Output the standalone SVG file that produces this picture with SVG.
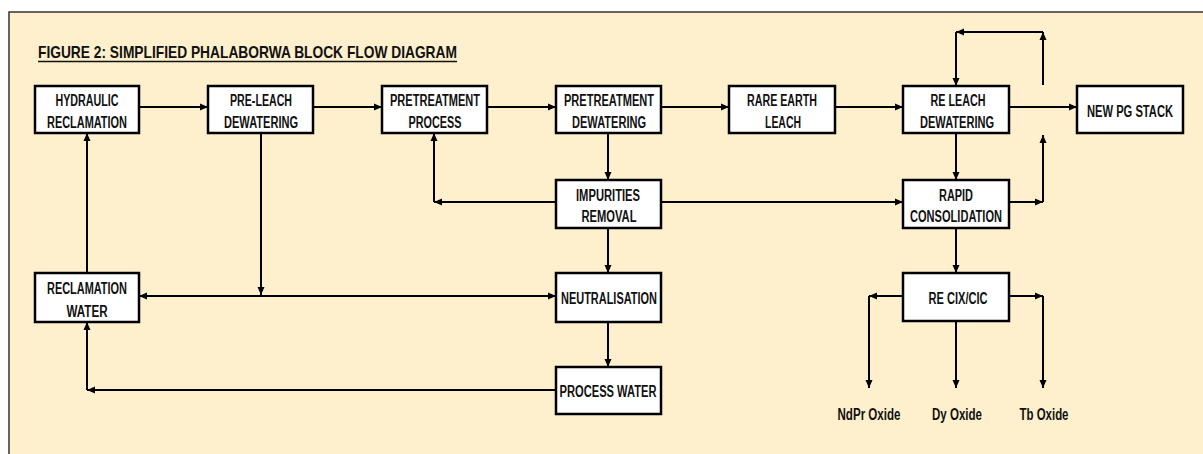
<svg xmlns="http://www.w3.org/2000/svg" width="1203" height="454" viewBox="0 0 1203 454">
<style>
.bg{fill:#FEF0CD;stroke:none}
.frame{fill:none;stroke:#333;stroke-width:1.5}
.box{fill:#fff;stroke:#000;stroke-width:2.5}
.t{font-family:"Liberation Sans Narrow","Liberation Sans",Arial,sans-serif;font-weight:bold;font-size:17px;fill:#111;text-anchor:middle}
.title{font-family:"Liberation Sans Narrow","Liberation Sans",Arial,sans-serif;font-weight:bold;font-size:16px;fill:#111}
.c{fill:none;stroke:#000;stroke-width:2;marker-end:url(#ah)}
.ln{fill:none;stroke:#000;stroke-width:2}
</style>
<defs>
<marker id="ah" markerUnits="userSpaceOnUse" markerWidth="8" markerHeight="8" viewBox="0 0 8 8" refX="8" refY="4" orient="auto">
<path d="M0,0.5 L8,4 L0,7.5 z" fill="#000"/>
</marker>
</defs>
<rect x="0" y="0" width="1203" height="454" fill="#fff"/>
<rect class="bg" x="9" y="12" width="1194" height="442"/>
<path class="frame" d="M9,454 V12 H1203"/>
<g id="title">
<text class="title" transform="translate(38,58) scale(0.8,1)" x="0" y="0" textLength="523.7" lengthAdjust="spacingAndGlyphs">FIGURE 2: SIMPLIFIED PHALABORWA BLOCK FLOW DIAGRAM</text>
<line x1="38" y1="61.5" x2="457" y2="61.5" stroke="#111" stroke-width="1.5"/>
</g>
<g id="connectors">
<path class="c" d="M139,107 H208"/>
<path class="c" d="M313,107 H382"/>
<path class="c" d="M487,107 H556"/>
<path class="c" d="M661,107 H729"/>
<path class="c" d="M835,107 H903"/>
<path class="c" d="M1009,107 H1077"/>
<path class="c" d="M1043,85 V32"/>
<path class="c" d="M1043,32 H956"/>
<path class="c" d="M956,32 V86"/>
<path class="c" d="M608,133 V180"/>
<path class="c" d="M556,202 H434"/>
<path class="c" d="M434,202 V133"/>
<path class="c" d="M661,202 H903"/>
<path class="c" d="M956,133 V180"/>
<path class="c" d="M956,228 V273"/>
<path class="c" d="M608,228 V273"/>
<path class="c" d="M261,133 V295"/>
<path class="c" d="M261,296 H139"/>
<path class="c" d="M261,296 H556"/>
<path class="c" d="M87,273 V133"/>
<path class="c" d="M608,322 V367"/>
<path class="c" d="M556,390 H87"/>
<path class="c" d="M87,390 V322"/>
<path class="c" d="M903,296 H869"/>
<path class="c" d="M869,296 V388"/>
<path class="c" d="M956,321 V388"/>
<path class="c" d="M1009,296 H1043"/>
<path class="c" d="M1043,296 V388"/>
<path class="c" d="M1009,202 H1043"/>
<path class="c" d="M1043,202 V135"/>
</g>
<g id="hydraulic-reclamation">
<rect class="box" x="35" y="86" width="104" height="47"/>
<text class="t" transform="translate(87,106) scale(0.78,1)" x="0" y="0" textLength="80.8" lengthAdjust="spacingAndGlyphs">HYDRAULIC</text>
<text class="t" transform="translate(87,128) scale(0.78,1)" x="0" y="0" textLength="102.6" lengthAdjust="spacingAndGlyphs">RECLAMATION</text>
</g>
<g id="pre-leach-dewatering">
<rect class="box" x="208" y="86" width="105" height="47"/>
<text class="t" transform="translate(261,106) scale(0.78,1)" x="0" y="0" textLength="79.5" lengthAdjust="spacingAndGlyphs">PRE-LEACH</text>
<text class="t" transform="translate(261,128) scale(0.78,1)" x="0" y="0" textLength="94.9" lengthAdjust="spacingAndGlyphs">DEWATERING</text>
</g>
<g id="pretreatment-process">
<rect class="box" x="382" y="86" width="105" height="47"/>
<text class="t" transform="translate(435,106) scale(0.78,1)" x="0" y="0" textLength="115.4" lengthAdjust="spacingAndGlyphs">PRETREATMENT</text>
<text class="t" transform="translate(435,128) scale(0.78,1)" x="0" y="0" textLength="67.9" lengthAdjust="spacingAndGlyphs">PROCESS</text>
</g>
<g id="pretreatment-dewatering">
<rect class="box" x="556" y="86" width="105" height="47"/>
<text class="t" transform="translate(609,106) scale(0.78,1)" x="0" y="0" textLength="115.4" lengthAdjust="spacingAndGlyphs">PRETREATMENT</text>
<text class="t" transform="translate(609,128) scale(0.78,1)" x="0" y="0" textLength="94.9" lengthAdjust="spacingAndGlyphs">DEWATERING</text>
</g>
<g id="rare-earth-leach">
<rect class="box" x="729" y="86" width="106" height="47"/>
<text class="t" transform="translate(782,106) scale(0.78,1)" x="0" y="0" textLength="89.7" lengthAdjust="spacingAndGlyphs">RARE EARTH</text>
<text class="t" transform="translate(783,128) scale(0.78,1)" x="0" y="0" textLength="46.2" lengthAdjust="spacingAndGlyphs">LEACH</text>
</g>
<g id="re-leach-dewatering">
<rect class="box" x="903" y="86" width="106" height="47"/>
<text class="t" transform="translate(958,106) scale(0.78,1)" x="0" y="0" textLength="70.5" lengthAdjust="spacingAndGlyphs">RE LEACH</text>
<text class="t" transform="translate(957,128) scale(0.78,1)" x="0" y="0" textLength="94.9" lengthAdjust="spacingAndGlyphs">DEWATERING</text>
</g>
<g id="new-pg-stack">
<rect class="box" x="1077" y="86" width="106" height="47"/>
<text class="t" transform="translate(1130,117) scale(0.78,1)" x="0" y="0" textLength="110.3" lengthAdjust="spacingAndGlyphs">NEW PG STACK</text>
</g>
<g id="impurities-removal">
<rect class="box" x="556" y="180" width="105" height="48"/>
<text class="t" transform="translate(608,201) scale(0.78,1)" x="0" y="0" textLength="82.1" lengthAdjust="spacingAndGlyphs">IMPURITIES</text>
<text class="t" transform="translate(609,222) scale(0.78,1)" x="0" y="0" textLength="70.5" lengthAdjust="spacingAndGlyphs">REMOVAL</text>
</g>
<g id="rapid-consolidation">
<rect class="box" x="903" y="180" width="106" height="48"/>
<text class="t" transform="translate(956,201) scale(0.78,1)" x="0" y="0" textLength="43.6" lengthAdjust="spacingAndGlyphs">RAPID</text>
<text class="t" transform="translate(956,222) scale(0.78,1)" x="0" y="0" textLength="117.9" lengthAdjust="spacingAndGlyphs">CONSOLIDATION</text>
</g>
<g id="reclamation-water">
<rect class="box" x="35" y="273" width="104" height="49"/>
<text class="t" transform="translate(87,294) scale(0.78,1)" x="0" y="0" textLength="102.6" lengthAdjust="spacingAndGlyphs">RECLAMATION</text>
<text class="t" transform="translate(87,317) scale(0.78,1)" x="0" y="0" textLength="52.6" lengthAdjust="spacingAndGlyphs">WATER</text>
</g>
<g id="neutralisation">
<rect class="box" x="556" y="273" width="105" height="49"/>
<text class="t" transform="translate(609,304) scale(0.78,1)" x="0" y="0" textLength="123.1" lengthAdjust="spacingAndGlyphs">NEUTRALISATION</text>
</g>
<g id="re-cix-cic">
<rect class="box" x="903" y="273" width="106" height="48"/>
<text class="t" transform="translate(958,304) scale(0.78,1)" x="0" y="0" textLength="75.6" lengthAdjust="spacingAndGlyphs">RE CIX/CIC</text>
</g>
<g id="process-water">
<rect class="box" x="556" y="367" width="105" height="47"/>
<text class="t" transform="translate(608,397) scale(0.78,1)" x="0" y="0" textLength="124.4" lengthAdjust="spacingAndGlyphs">PROCESS WATER</text>
</g>
<g id="ndpr-oxide">
<text class="t" transform="translate(869,420) scale(0.78,1)" x="0" y="0" textLength="80.8" lengthAdjust="spacingAndGlyphs">NdPr Oxide</text>
</g>
<g id="dy-oxide">
<text class="t" transform="translate(957,420) scale(0.78,1)" x="0" y="0" textLength="64.1" lengthAdjust="spacingAndGlyphs">Dy Oxide</text>
</g>
<g id="tb-oxide">
<text class="t" transform="translate(1044,420) scale(0.78,1)" x="0" y="0" textLength="62.8" lengthAdjust="spacingAndGlyphs">Tb Oxide</text>
</g>
</svg>
